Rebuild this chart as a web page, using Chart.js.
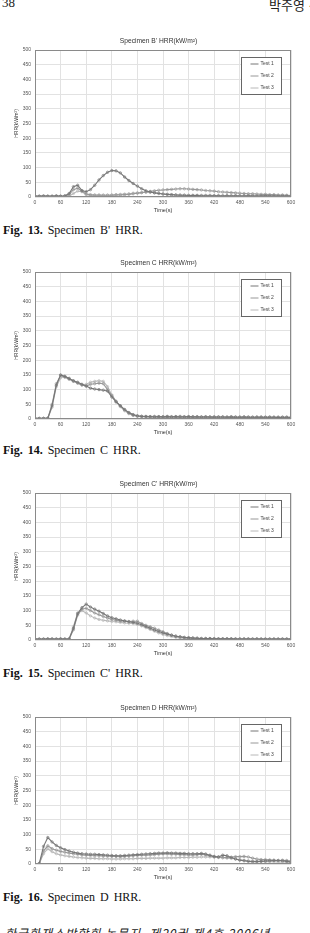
<!DOCTYPE html>
<html>
<head>
<meta charset="utf-8">
<script src="https://cdn.jsdelivr.net/npm/chart.js@4.4.1/dist/chart.umd.min.js"></script>
<style>
  html, body { margin: 0; padding: 0; background: #fff; }
  body { width: 310px; height: 933px; position: relative; overflow: hidden; }
  .box { position: absolute; left: 0; width: 310px; }
  .cap { position: absolute; left: 3px; font-family: "Liberation Serif", serif; font-size: 12px; color: #111; white-space: nowrap; word-spacing: 2px; }
  .cap b { font-weight: bold; }
  .hdr { position: absolute; font-family: "Liberation Serif", "Noto Sans CJK KR", serif; font-size: 13px; color: #222; white-space: nowrap; }
  .foot { position: absolute; left: 5px; top: 926px; line-height: 14px; font-family: "Noto Sans CJK KR", sans-serif; font-style: italic; font-size: 12px; letter-spacing: 1px; color: #222; white-space: nowrap; }
</style>
</head>
<body>
<div class="hdr" style="left:2px; top:-5px;">38</div>
<div class="hdr" style="left:269px; top:-5px;">박주영 ·</div>

<div class="box" style="top:35px; height:181px;"><canvas id="chartB"></canvas></div>
<div class="cap" style="top:223px;"><b>Fig. 13.</b> Specimen B' HRR.</div>

<div class="box" style="top:257px; height:181px;"><canvas id="chartC"></canvas></div>
<div class="cap" style="top:443px;"><b>Fig. 14.</b> Specimen C HRR.</div>

<div class="box" style="top:478px; height:181px;"><canvas id="chartC2"></canvas></div>
<div class="cap" style="top:666px;"><b>Fig. 15.</b> Specimen C' HRR.</div>

<div class="box" style="top:702px; height:181px;"><canvas id="chartD"></canvas></div>
<div class="cap" style="top:890px;"><b>Fig. 16.</b> Specimen D HRR.</div>

<div class="foot">한국화재소방학회 논문지, 제20권 제4호 2006년</div>

<script>
// time axis (s), one reading every 10 s
const TIMES = [0,10,20,30,40,50,60,70,80,90,100,110,120,130,140,150,160,170,180,190,200,
  210,220,230,240,250,260,270,280,290,300,310,320,330,340,350,360,370,380,390,400,
  410,420,430,440,450,460,470,480,490,500,510,520,530,540,550,560,570,580,590,600];
const X_TICKS = [0, 60, 120, 180, 240, 300, 360, 420, 480, 540, 600];
const Y_TICKS = [0, 50, 100, 150, 200, 250, 300, 350, 400, 450, 500];
const SERIES_NAMES = ["Test 1", "Test 2", "Test 3"];
const SERIES_COLORS = ["#767676", "#989898", "#b8b8b8"];

// Specimen B'
const B_TEST1 = [3,3,4,3,3,4,3,4, 12,35,40,22,18,25,40,58, 73,84,90,89,82,68,56,46,
  37,28,21,17,14,12,10,9, 8,7,6,6,5,5,5,4, 4,4,4,4,3,4,3,4, 3,3,4,3,3,3,4,3, 3,3,3,3,2];
const B_TEST2 = [2,2,2,2,2,3,2,3, 8,25,30,20,10,8,7,7, 6,6,6,7,7,8,9,11,
  13,15,17,19,21,23,24,25, 26,27,28,28,27,26,25,24, 22,21,20,18,17,16,15,14, 13,12,11,11,10,9,9,8, 8,7,7,6,5];
const B_TEST3 = [1,1,1,2,1,1,2,1, 3,12,20,18,8,5,5,5, 6,6,7,8,9,10,11,13,
  14,15,16,16,15,13,11,9, 8,7,7,6,6,6,6,6, 6,6,5,5,5,5,5,5, 5,5,5,5,4,5,5,4, 5,4,5,4,4];

// Specimen C
const C_TEST1 = [2,2,2,2,45,115,150,145, 138,130,125,118,112,105,102,100, 98,95,75,58,45,32,22,15,
  11,9,8,8,7,8,7,8, 7,8,7,7,8,7,7,7, 7,7,6,7,7,6,7,6, 6,7,6,6,6,6,6,6, 6,5,6,6,5];
const C_TEST2 = [2,2,2,3,50,120,148,142, 135,128,122,116,112,118,120,122, 120,100,80,60,45,32,20,13,
  10,9,9,8,9,8,8,9, 8,8,9,8,8,8,8,7, 8,7,8,7,7,7,8,7, 7,7,7,6,7,7,6,7, 6,7,6,6,6];
const C_TEST3 = [1,1,2,2,40,110,140,145, 138,130,122,115,118,125,128,130, 128,110,82,60,42,28,18,12,
  9,8,8,7,7,7,6,7, 6,6,6,6,6,5,6,5, 5,5,5,5,5,5,4,5, 4,5,4,4,5,4,4,4, 4,4,4,4,4];

// Specimen C'
const C2_TEST1 = [3,3,3,4,3,3,4,3, 4,40,90,110,122,112,105,98, 90,82,76,72,68,65,62,60,
  57,52,46,40,34,29,24,20, 16,13,11,9,8,7,6,5, 5,5,4,4,4,4,4,3, 3,3,3,3,3,3,3,3, 3,3,3,3,3];
const C2_TEST2 = [3,3,3,3,4,3,3,3, 3,35,85,105,108,100,92,86, 80,75,70,67,65,64,63,64,
  64,56,50,45,40,34,28,22, 17,13,10,8,7,6,6,5, 5,5,5,4,4,4,4,4, 4,4,4,3,4,3,3,3, 3,3,3,3,3];
const C2_TEST3 = [2,2,2,2,2,2,2,2, 3,45,92,100,92,82,75,70, 67,65,63,62,60,58,57,56,
  53,48,42,36,30,24,19,15, 12,9,7,6,5,5,4,4, 4,4,3,3,3,3,3,3, 3,3,3,3,3,3,3,3, 3,3,3,3,3];

// Specimen D
const D_TEST1 = [0,2,60,90,75,63,55,49, 44,40,37,35,34,33,33,32, 31,30,29,28,28,29,30,31,
  32,33,34,35,36,37,37,38, 37,37,36,36,35,35,35,36, 34,30,25,24,30,28,22,17, 13,11,9,8,8,9,10,11, 12,12,11,9,7];
const D_TEST2 = [0,1,45,62,52,47,43,40, 37,35,33,31,30,29,28,28, 27,27,26,26,25,26,27,28,
  29,30,30,31,32,33,34,34, 33,33,32,32,31,31,32,33, 31,28,26,24,22,22,23,25, 25,26,24,20,17,15,15,14, 13,12,13,12,10];
const D_TEST3 = [0,1,35,52,42,35,31,28, 26,24,22,21,20,19,19,18, 18,18,17,17,17,18,18,18,
  19,19,19,20,20,20,20,21, 21,21,22,22,22,23,23,24, 24,24,23,22,21,20,19,17, 15,13,11,10,9,9,8,8, 8,7,7,7,6];

const FONT = "'Liberation Sans', Arial, sans-serif";

// chart title, grey frame round the plot and the boxed legend inside it
const framePlugin = {
  id: "plotFrame",
  afterDatasetsDraw(chart, args, opts) {
    const { ctx, chartArea: a } = chart;
    ctx.save();
    ctx.strokeStyle = "#8a8a8a";
    ctx.lineWidth = 1;
    ctx.strokeRect(Math.round(a.left) + 0.5, Math.round(a.top) + 0.5,
      Math.round(a.right - a.left) - 1, Math.round(a.bottom - a.top) - 1);

    ctx.fillStyle = "#333";
    ctx.font = "6.7px " + FONT;
    ctx.textAlign = "center";
    ctx.textBaseline = "middle";
    ctx.fillText(opts.text, (a.left + a.right) / 2 - 4.5, a.top - 9);

    const bx = Math.round(a.left) + 206.5, by = Math.round(a.top) + 7.5;
    ctx.fillStyle = "#fff";
    ctx.fillRect(bx, by, 40, 37);
    ctx.strokeStyle = "#666";
    ctx.strokeRect(bx, by, 40, 37);
    ctx.font = "5px " + FONT;
    ctx.textAlign = "left";
    chart.data.datasets.forEach((ds, i) => {
      const y = by + 6.5 + i * 12;
      ctx.strokeStyle = ds.borderColor;
      ctx.beginPath();
      ctx.moveTo(bx + 9, y);
      ctx.lineTo(bx + 17, y);
      ctx.stroke();
      ctx.fillStyle = "#444";
      ctx.fillText(ds.label, bx + 19, y);
    });
    ctx.restore();
  }
};

function makeChart(id, title, seriesList) {
  const datasets = seriesList.map((vals, i) => ({
    label: SERIES_NAMES[i],
    data: TIMES.map((t, k) => ({ x: t, y: vals[k] })),
    borderColor: SERIES_COLORS[i],
    borderWidth: 1.1,
    pointRadius: 1.2,
    pointBorderWidth: 0.7,
    pointBackgroundColor: "rgba(255,255,255,0)",
    pointBorderColor: SERIES_COLORS[i],
    tension: 0
  }));

  return new Chart(document.getElementById(id), {
    type: "line",
    data: { datasets },
    options: {
      animation: false,
      responsive: true,
      maintainAspectRatio: false,
      layout: { padding: { left: 10, right: 19, top: 15, bottom: 0 } },
      plugins: {
        legend: { display: false },
        tooltip: { enabled: false },
        title: { display: false },
        plotFrame: { text: title }
      },
      scales: {
        x: {
          type: "linear",
          min: 0,
          max: 600,
          afterBuildTicks: (scale) => { scale.ticks = X_TICKS.map(v => ({ value: v })); },
          afterFit: (scale) => { scale.height = 19; },
          ticks: { color: "#555", font: { family: FONT, size: 5 }, padding: 3, maxRotation: 0 },
          grid: { color: "#e2e2e2", drawTicks: false },
          border: { display: false },
          title: { display: true, text: "Time(s)", color: "#333", font: { family: FONT, size: 5.5 }, padding: { top: 0, bottom: 2 } }
        },
        y: {
          min: 0,
          max: 500,
          afterBuildTicks: (scale) => { scale.ticks = Y_TICKS.map(v => ({ value: v })); },
          afterFit: (scale) => { scale.width = 25; },
          ticks: { color: "#555", font: { family: FONT, size: 5 }, padding: 4 },
          grid: { color: "#e2e2e2", drawTicks: false },
          border: { display: false },
          title: { display: true, text: "HRR(kW/m²)", color: "#333", font: { family: FONT, size: 5 }, padding: { top: 4, bottom: 0 } }
        }
      }
    },
    plugins: [framePlugin]
  });
}

makeChart("chartB", "Specimen B' HRR(kW/m²)", [B_TEST1, B_TEST2, B_TEST3]);
makeChart("chartC", "Specimen C HRR(kW/m²)", [C_TEST1, C_TEST2, C_TEST3]);
makeChart("chartC2", "Specimen C' HRR(kW/m²)", [C2_TEST1, C2_TEST2, C2_TEST3]);
makeChart("chartD", "Specimen D HRR(kW/m²)", [D_TEST1, D_TEST2, D_TEST3]);
</script>
</body>
</html>
